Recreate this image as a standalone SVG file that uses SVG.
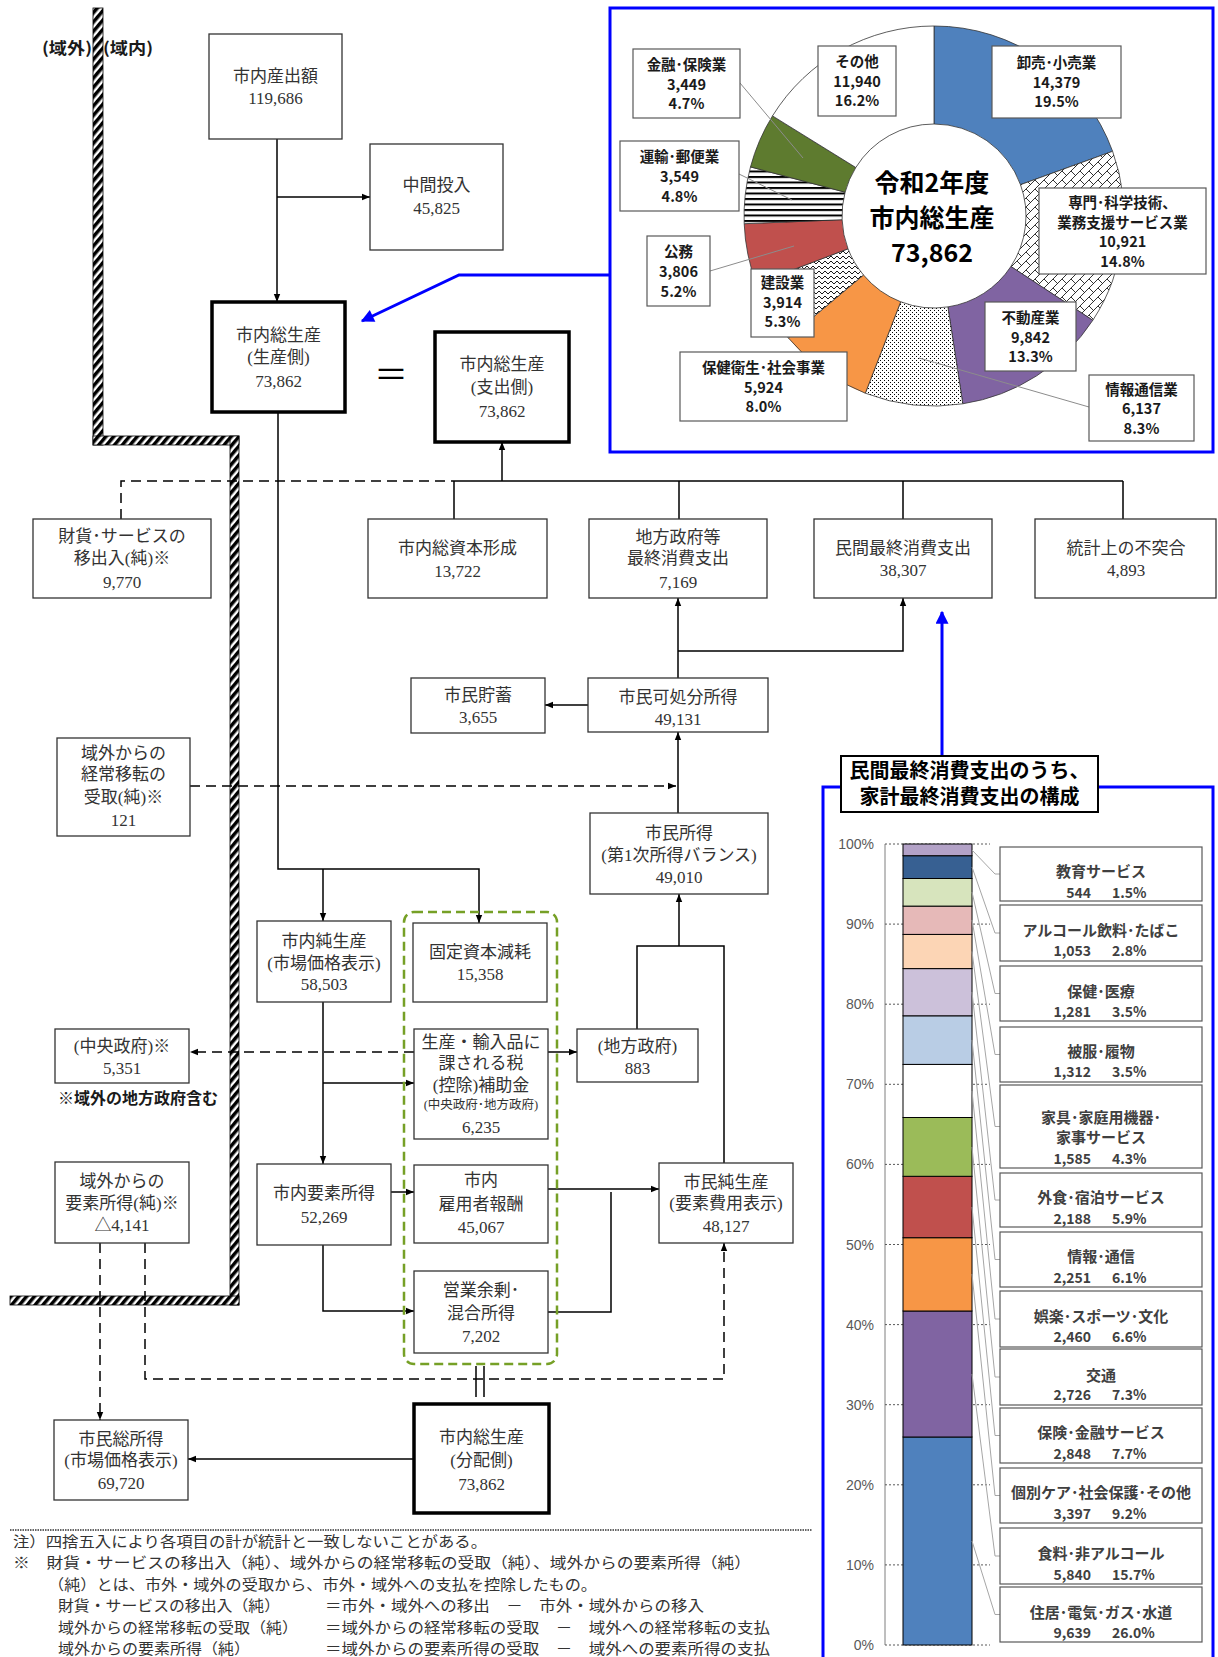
<svg xmlns="http://www.w3.org/2000/svg" width="1218" height="1657" viewBox="0 0 1218 1657">
<style>
.bx{fill:#fff;stroke:#333;stroke-width:1.3}
.bxt{fill:#fff;stroke:#000;stroke-width:3.5}
.t{font-family:"Liberation Serif","Noto Sans CJK JP",serif;font-size:17px;fill:#333;text-anchor:middle}
.ts{font-family:"Liberation Serif","Noto Sans CJK JP",serif;font-size:12.5px;fill:#333;text-anchor:middle}
.ln{stroke:#000;stroke-width:1.5;fill:none}
.dl{stroke:#000;stroke-width:1.5;fill:none;stroke-dasharray:10,6}
.pb{fill:#fff;stroke:#595959;stroke-width:1.2}
.pl{font-family:"Noto Sans CJK JP",sans-serif;font-weight:bold;font-size:14.5px;fill:#1a1a1a;text-anchor:middle}
.pc{font-family:"Noto Sans CJK JP",sans-serif;font-weight:bold;font-size:25px;fill:#000;text-anchor:middle}
.bl{font-family:"Noto Sans CJK JP",sans-serif;font-weight:bold;font-size:15px;fill:#404040;text-anchor:middle}
.bn{font-family:"Noto Sans CJK JP",sans-serif;font-weight:bold;font-size:14px;fill:#404040}
.ax{font-family:"Liberation Sans",sans-serif;font-size:14px;fill:#595959;text-anchor:end}
.nt{font-family:"Noto Sans CJK JP",sans-serif;font-size:15px;fill:#333}
.hb{font-family:"Noto Sans CJK JP",sans-serif;font-weight:bold;font-size:16px;fill:#1a1a1a}
.lead{stroke:#8c8c8c;stroke-width:1;fill:none}
.bld{stroke:#a6a6a6;stroke-width:1;fill:none}
.seg{stroke:#000;stroke-width:1}
.grid{stroke:#595959;stroke-width:1;stroke-dasharray:2,2}
.hatch{fill:url(#hatch);stroke:#000;stroke-width:0.8}
.blue{stroke:#0000ff;stroke-width:3;fill:none}
</style>
<defs>
<pattern id="hatch" width="6" height="6" patternUnits="userSpaceOnUse" patternTransform="rotate(40)"><rect width="6" height="6" fill="#fff"/><rect width="3.5" height="6" fill="#000"/></pattern>
<pattern id="cross" width="9" height="9" patternUnits="userSpaceOnUse"><rect width="9" height="9" fill="#fff"/><path d="M0,9 L9,0 M0,0 L4.5,4.5" stroke="#000" stroke-width="0.8" fill="none"/></pattern>
<pattern id="dots" width="4" height="4" patternUnits="userSpaceOnUse"><rect width="4" height="4" fill="#fff"/><rect width="1" height="1" fill="#000"/><rect x="2" y="2" width="1" height="1" fill="#000"/></pattern>
<pattern id="zig" width="6" height="5" patternUnits="userSpaceOnUse"><rect width="6" height="5" fill="#fff"/><path d="M0,4 L3,1 L6,4" fill="none" stroke="#000" stroke-width="0.9"/></pattern>
<pattern id="hstripe" width="6" height="5.5" patternUnits="userSpaceOnUse"><rect width="6" height="5.5" fill="#fff"/><rect width="6" height="2" fill="#000"/></pattern>
<marker id="ah" viewBox="0 0 10 10" refX="10" refY="5" markerWidth="8" markerHeight="8" markerUnits="userSpaceOnUse" orient="auto"><path d="M0,1 L10,5 L0,9z" fill="#000"/></marker>
<marker id="bah" viewBox="0 0 10 10" refX="9" refY="5" markerWidth="15" markerHeight="13" markerUnits="userSpaceOnUse" orient="auto"><path d="M0,0 L10,5 L0,10z" fill="#0000ff"/></marker>
</defs>
<rect width="1218" height="1657" fill="#fff"/>

<!-- region border hatch -->
<g id="border">
<rect class="hatch" x="93" y="8" width="10" height="437"/>
<rect class="hatch" x="93" y="436" width="146" height="9"/>
<rect class="hatch" x="230" y="436" width="9" height="869"/>
<rect class="hatch" x="10" y="1296" width="229" height="9"/>
<text class="hb" x="42" y="54" textLength="50" lengthAdjust="spacingAndGlyphs">(域外)</text>
<text class="hb" x="103" y="54" textLength="50" lengthAdjust="spacingAndGlyphs">(域内)</text>
</g>

<!-- connectors -->
<g id="connectors">
<line class="ln" x1="277" y1="139" x2="277" y2="302" marker-end="url(#ah)"/>
<line class="ln" x1="277" y1="197" x2="370" y2="197" marker-end="url(#ah)"/>
<line class="ln" x1="502" y1="481" x2="502" y2="442" marker-end="url(#ah)"/>
<path class="ln" d="M454,481 H1123 M454,481 V519 M679,481 V519 M903,481 V519 M1123,481 V519"/>
<path class="dl" d="M121,519 V481 H454"/>
<line class="ln" x1="678" y1="678" x2="678" y2="598" marker-end="url(#ah)"/>
<path class="ln" d="M678,651 H903 V598" marker-end="url(#ah)"/>
<line class="ln" x1="588" y1="705" x2="545" y2="705" marker-end="url(#ah)"/>
<line class="ln" x1="678" y1="813" x2="678" y2="732" marker-end="url(#ah)"/>
<line class="dl" x1="190" y1="786" x2="676" y2="786" marker-end="url(#ah)"/>
<path class="ln" d="M637,1029 V946 H724 V1163"/>
<line class="ln" x1="679" y1="946" x2="679" y2="894" marker-end="url(#ah)"/>
<path class="ln" d="M278,412 V869 H479 V923" marker-end="url(#ah)"/>
<line class="ln" x1="323" y1="869" x2="323" y2="921" marker-end="url(#ah)"/>
<line class="ln" x1="323" y1="1002" x2="323" y2="1164" marker-end="url(#ah)"/>
<line class="ln" x1="323" y1="1083" x2="414" y2="1083" marker-end="url(#ah)"/>
<line class="ln" x1="391" y1="1192" x2="414" y2="1192" marker-end="url(#ah)"/>
<path class="ln" d="M323,1245 V1311 H414" marker-end="url(#ah)"/>
<line class="dl" x1="414" y1="1052" x2="190" y2="1052" marker-end="url(#ah)"/>
<line class="ln" x1="548" y1="1052" x2="577" y2="1052" marker-end="url(#ah)"/>
<line class="ln" x1="548" y1="1189" x2="659" y2="1189" marker-end="url(#ah)"/>
<path class="ln" d="M548,1312 H611 V1192"/>
<line class="dl" x1="100" y1="1243" x2="100" y2="1420" marker-end="url(#ah)"/>
<path class="dl" d="M145,1243 V1379 H724 V1243" marker-end="url(#ah)"/>
<path class="ln" d="M476,1366 V1397 M484,1366 V1397"/>
<line class="ln" x1="414" y1="1459" x2="188" y2="1459" marker-end="url(#ah)"/>
<polyline class="blue" points="610,275 459,275 362,321" marker-end="url(#bah)"/>
<line class="blue" x1="942" y1="755" x2="942" y2="612" marker-end="url(#bah)"/>
</g>

<!-- green dashed group -->
<rect id="distribution-group" x="404" y="912" width="153" height="452" rx="10" fill="none" stroke="#76a026" stroke-width="2.5" stroke-dasharray="9,5"/>

<!-- flow nodes -->
<g id="n-output"><rect class="bx" x="209" y="34" width="133" height="105"/><text class="t" x="275.5" y="82">市内産出額</text><text class="t" x="275.5" y="104">119,686</text></g>
<g id="n-intermediate"><rect class="bx" x="370" y="144" width="133" height="106"/><text class="t" x="436.5" y="191">中間投入</text><text class="t" x="436.5" y="214">45,825</text></g>
<g id="n-gdp-prod"><rect class="bxt" x="212" y="302" width="133" height="110"/><text class="t" x="278.5" y="341">市内総生産</text><text class="t" x="278.5" y="363">(生産側)</text><text class="t" x="278.5" y="387">73,862</text></g>
<text id="eq" x="391" y="387" font-family="Noto Sans CJK JP,sans-serif" font-size="34" text-anchor="middle" fill="#000">＝</text>
<g id="n-gdp-exp"><rect class="bxt" x="435" y="332" width="134" height="110"/><text class="t" x="502" y="370">市内総生産</text><text class="t" x="502" y="393">(支出側)</text><text class="t" x="502" y="417">73,862</text></g>
<g id="n-netexport"><rect class="bx" x="33" y="519" width="178" height="79"/><text class="t" x="122" y="542">財貨･サービスの</text><text class="t" x="122" y="564">移出入(純)※</text><text class="t" x="122" y="588">9,770</text></g>
<g id="n-capital"><rect class="bx" x="368" y="519" width="179" height="79"/><text class="t" x="457.5" y="554">市内総資本形成</text><text class="t" x="457.5" y="577">13,722</text></g>
<g id="n-govcons"><rect class="bx" x="589" y="519" width="178" height="79"/><text class="t" x="678" y="543">地方政府等</text><text class="t" x="678" y="564">最終消費支出</text><text class="t" x="678" y="588">7,169</text></g>
<g id="n-privcons"><rect class="bx" x="814" y="519" width="178" height="79"/><text class="t" x="903" y="554">民間最終消費支出</text><text class="t" x="903" y="576">38,307</text></g>
<g id="n-discrepancy"><rect class="bx" x="1035" y="519" width="181" height="79"/><text class="t" x="1126" y="554">統計上の不突合</text><text class="t" x="1126" y="576">4,893</text></g>
<g id="n-saving"><rect class="bx" x="411" y="678" width="134" height="55"/><text class="t" x="478" y="701">市民貯蓄</text><text class="t" x="478" y="723">3,655</text></g>
<g id="n-disposable"><rect class="bx" x="588" y="678" width="180" height="54"/><text class="t" x="678" y="703">市民可処分所得</text><text class="t" x="678" y="725">49,131</text></g>
<g id="n-transfer"><rect class="bx" x="57" y="738" width="133" height="98"/><text class="t" x="123.5" y="759">域外からの</text><text class="t" x="123.5" y="780">経常移転の</text><text class="t" x="123.5" y="803">受取(純)※</text><text class="t" x="123.5" y="826">121</text></g>
<g id="n-income"><rect class="bx" x="590" y="813" width="178" height="81"/><text class="t" x="679" y="839">市民所得</text><text class="t" x="679" y="861">(第1次所得バランス)</text><text class="t" x="679" y="883">49,010</text></g>
<g id="n-ndp"><rect class="bx" x="257" y="921" width="134" height="81"/><text class="t" x="324" y="947">市内純生産</text><text class="t" x="324" y="969">(市場価格表示)</text><text class="t" x="324" y="990">58,503</text></g>
<g id="n-depreciation"><rect class="bx" x="413" y="923" width="134" height="79"/><text class="t" x="480" y="958">固定資本減耗</text><text class="t" x="480" y="980">15,358</text></g>
<g id="n-central"><rect class="bx" x="55" y="1029" width="134" height="54"/><text class="t" x="122" y="1052">(中央政府)※</text><text class="t" x="122" y="1074">5,351</text></g>
<text class="hb" x="58" y="1104">※域外の地方政府含む</text>
<g id="n-tax"><rect class="bx" x="414" y="1029" width="134" height="110"/><text class="t" x="481" y="1048">生産・輸入品に</text><text class="t" x="481" y="1069">課される税</text><text class="t" x="481" y="1091">(控除)補助金</text><text class="ts" x="481" y="1109">(中央政府･地方政府)</text><text class="t" x="481" y="1133">6,235</text></g>
<g id="n-local"><rect class="bx" x="577" y="1029" width="121" height="53"/><text class="t" x="637.5" y="1052">(地方政府)</text><text class="t" x="637.5" y="1074">883</text></g>
<g id="n-factor-abroad"><rect class="bx" x="55" y="1162" width="134" height="81"/><text class="t" x="122" y="1187">域外からの</text><text class="t" x="122" y="1209">要素所得(純)※</text><text class="t" x="122" y="1231">△4,141</text></g>
<g id="n-factor"><rect class="bx" x="257" y="1164" width="134" height="81"/><text class="t" x="324" y="1199">市内要素所得</text><text class="t" x="324" y="1223">52,269</text></g>
<g id="n-compensation"><rect class="bx" x="414" y="1165" width="134" height="78"/><text class="t" x="481" y="1186">市内</text><text class="t" x="481" y="1210">雇用者報酬</text><text class="t" x="481" y="1233">45,067</text></g>
<g id="n-nni"><rect class="bx" x="659" y="1163" width="134" height="80"/><text class="t" x="726" y="1188">市民純生産</text><text class="t" x="726" y="1209">(要素費用表示)</text><text class="t" x="726" y="1232">48,127</text></g>
<g id="n-surplus"><rect class="bx" x="414" y="1271" width="134" height="82"/><text class="t" x="481" y="1296">営業余剰･</text><text class="t" x="481" y="1319">混合所得</text><text class="t" x="481" y="1342">7,202</text></g>
<g id="n-gdp-dist"><rect class="bxt" x="414" y="1404" width="135" height="109"/><text class="t" x="481.5" y="1443">市内総生産</text><text class="t" x="481.5" y="1466">(分配側)</text><text class="t" x="481.5" y="1490">73,862</text></g>
<g id="n-gni"><rect class="bx" x="54" y="1420" width="134" height="80"/><text class="t" x="121" y="1445">市民総所得</text><text class="t" x="121" y="1466">(市場価格表示)</text><text class="t" x="121" y="1489">69,720</text></g>

<!-- notes -->
<g id="notes">
<line x1="10" y1="1530" x2="812" y2="1530" stroke="#333" stroke-width="1.5" stroke-dasharray="1.5,1"/>
<text class="nt" x="13" y="1547" textLength="474" lengthAdjust="spacingAndGlyphs">注）四捨五入により各項目の計が統計と一致しないことがある。</text>
<text class="nt" x="13" y="1568" textLength="738" lengthAdjust="spacingAndGlyphs">※　財貨・サービスの移出入（純）、域外からの経常移転の受取（純）、域外からの要素所得（純）</text>
<text class="nt" x="48" y="1589.5" textLength="549" lengthAdjust="spacingAndGlyphs">（純）とは、市外・域外の受取から、市外・域外への支払を控除したもの。</text>
<text class="nt" x="58" y="1611" textLength="222" lengthAdjust="spacingAndGlyphs">財貨・サービスの移出入（純）</text>
<text class="nt" x="325" y="1611" textLength="379" lengthAdjust="spacingAndGlyphs">＝市外・域外への移出　－　市外・域外からの移入</text>
<text class="nt" x="58" y="1632.5" textLength="240" lengthAdjust="spacingAndGlyphs">域外からの経常移転の受取（純）</text>
<text class="nt" x="325" y="1632.5" textLength="445" lengthAdjust="spacingAndGlyphs">＝域外からの経常移転の受取　－　域外への経常移転の支払</text>
<text class="nt" x="58" y="1654" textLength="192" lengthAdjust="spacingAndGlyphs">域外からの要素所得（純）</text>
<text class="nt" x="325" y="1654" textLength="445" lengthAdjust="spacingAndGlyphs">＝域外からの要素所得の受取　－　域外への要素所得の支払</text>
</g>

<!-- pie chart panel -->
<g id="pie-panel">
<rect x="610" y="8" width="603" height="444" fill="none" stroke="#0000ff" stroke-width="3"/>
<g id="pie" stroke="#333" stroke-width="0.8">
<path fill="#4f81bd" d="M934,26 A190,190 0 0 1 1112.6,151.3 L1020.5,184.7 A92,92 0 0 0 934,124 Z"/>
<path fill="url(#cross)" d="M1112.6,151.3 A190,190 0 0 1 1092.8,320.3 L1010.9,266.5 A92,92 0 0 0 1020.5,184.7 Z"/>
<path fill="#8064a2" d="M1092.8,320.3 A190,190 0 0 1 962.8,403.8 L947.9,306.9 A92,92 0 0 0 1010.9,266.5 Z"/>
<path fill="url(#dots)" d="M962.8,403.8 A190,190 0 0 1 865.3,393.2 L900.7,301.8 A92,92 0 0 0 947.9,306.9 Z"/>
<path fill="#f79646" d="M865.3,393.2 A190,190 0 0 1 788.3,337.9 L863.5,275.0 A92,92 0 0 0 900.7,301.8 Z"/>
<path fill="url(#zig)" d="M788.3,337.9 A190,190 0 0 1 756.4,283.7 L848.0,248.8 A92,92 0 0 0 863.5,275.0 Z"/>
<path fill="#c0504d" d="M756.4,283.7 A190,190 0 0 1 744.2,223.7 L842.1,219.7 A92,92 0 0 0 848.0,248.8 Z"/>
<path fill="url(#hstripe)" d="M744.2,223.7 A190,190 0 0 1 750.5,166.9 L845.1,192.2 A92,92 0 0 0 842.1,219.7 Z"/>
<path fill="#5e7b2f" d="M750.5,166.9 A190,190 0 0 1 772.5,115.9 L855.8,167.5 A92,92 0 0 0 845.1,192.2 Z"/>
<path fill="#fff" d="M772.5,115.9 A190,190 0 0 1 934,26 L934,124 A92,92 0 0 0 855.8,167.5 Z"/>
</g>
<text class="pc" x="932" y="192">令和2年度</text>
<text class="pc" x="932" y="227">市内総生産</text>
<text class="pc" x="932" y="262">73,862</text>
<path class="lead" d="M740,83 L803,158 M739,174 L792,200 M710,271 L794,246 M1089,407 L919,358"/>
<g id="pl-wholesale"><rect class="pb" x="992" y="46" width="129" height="72"/><text class="pl" x="1056.5" y="68">卸売･小売業</text><text class="pl" x="1056.5" y="88">14,379</text><text class="pl" x="1056.5" y="107">19.5%</text></g>
<g id="pl-professional"><rect class="pb" x="1039" y="188" width="167" height="86"/><text class="pl" x="1122.5" y="208">専門･科学技術、</text><text class="pl" x="1122.5" y="228">業務支援サービス業</text><text class="pl" x="1122.5" y="247">10,921</text><text class="pl" x="1122.5" y="267">14.8%</text></g>
<g id="pl-realestate"><rect class="pb" x="985" y="302" width="91" height="69"/><text class="pl" x="1030.5" y="323">不動産業</text><text class="pl" x="1030.5" y="343">9,842</text><text class="pl" x="1030.5" y="362">13.3%</text></g>
<g id="pl-ict"><rect class="pb" x="1089" y="375" width="105" height="66"/><text class="pl" x="1141.5" y="395">情報通信業</text><text class="pl" x="1141.5" y="414">6,137</text><text class="pl" x="1141.5" y="434">8.3%</text></g>
<g id="pl-health"><rect class="pb" x="680" y="352" width="167" height="69"/><text class="pl" x="763.5" y="373">保健衛生･社会事業</text><text class="pl" x="763.5" y="393">5,924</text><text class="pl" x="763.5" y="412">8.0%</text></g>
<g id="pl-construction"><rect class="pb" x="751" y="269" width="63" height="68"/><text class="pl" x="782.5" y="288">建設業</text><text class="pl" x="782.5" y="308">3,914</text><text class="pl" x="782.5" y="327">5.3%</text></g>
<g id="pl-public"><rect class="pb" x="647" y="236" width="63" height="70"/><text class="pl" x="678.5" y="257">公務</text><text class="pl" x="678.5" y="277">3,806</text><text class="pl" x="678.5" y="297">5.2%</text></g>
<g id="pl-transport"><rect class="pb" x="620" y="141" width="119" height="70"/><text class="pl" x="679.5" y="162">運輸･郵便業</text><text class="pl" x="679.5" y="182">3,549</text><text class="pl" x="679.5" y="202">4.8%</text></g>
<g id="pl-finance"><rect class="pb" x="633" y="49" width="107" height="69"/><text class="pl" x="686.5" y="70">金融･保険業</text><text class="pl" x="686.5" y="90">3,449</text><text class="pl" x="686.5" y="109">4.7%</text></g>
<g id="pl-other"><rect class="pb" x="818" y="46" width="78" height="70"/><text class="pl" x="857" y="67">その他</text><text class="pl" x="857" y="87">11,940</text><text class="pl" x="857" y="106">16.2%</text></g>
</g>

<!-- bar chart panel -->
<g id="bar-panel">
<path d="M823,1665 V787 H1213 V1665" fill="none" stroke="#0000ff" stroke-width="3"/>
<g id="bar-title"><rect x="841" y="756" width="257" height="56" fill="#fff" stroke="#000" stroke-width="2"/>
<text x="969.5" y="778" font-family="Noto Sans CJK JP,sans-serif" font-weight="bold" font-size="20" text-anchor="middle" fill="#000">民間最終消費支出のうち、</text>
<text x="969.5" y="804" font-family="Noto Sans CJK JP,sans-serif" font-weight="bold" font-size="20" text-anchor="middle" fill="#000">家計最終消費支出の構成</text></g>
<g id="axis">
<line x1="885" y1="844" x2="885" y2="1645" stroke="#7f7f7f" stroke-width="1"/>
<path class="grid" d="M885,844 H990 M885,924.1 H990 M885,1004.2 H990 M885,1084.3 H990 M885,1164.4 H990 M885,1244.5 H990 M885,1324.6 H990 M885,1404.7 H990 M885,1484.8 H990 M885,1564.9 H990 M885,1645 H990"/>
<text class="ax" x="874" y="849">100%</text><text class="ax" x="874" y="929">90%</text><text class="ax" x="874" y="1009">80%</text><text class="ax" x="874" y="1089">70%</text><text class="ax" x="874" y="1169">60%</text><text class="ax" x="874" y="1250">50%</text><text class="ax" x="874" y="1330">40%</text><text class="ax" x="874" y="1410">30%</text><text class="ax" x="874" y="1490">20%</text><text class="ax" x="874" y="1570">10%</text><text class="ax" x="874" y="1650">0%</text>
</g>
<g id="bar">
<rect class="seg" x="903" y="1437" width="69" height="208" fill="#4f81bd"/>
<rect class="seg" x="903" y="1311" width="69" height="126" fill="#8064a2"/>
<rect class="seg" x="903" y="1237.7" width="69" height="73.3" fill="#f79646"/>
<rect class="seg" x="903" y="1176.3" width="69" height="61.4" fill="#c0504d"/>
<rect class="seg" x="903" y="1117.5" width="69" height="58.8" fill="#9bbb59"/>
<rect class="seg" x="903" y="1064.4" width="69" height="53.1" fill="#fff"/>
<rect class="seg" x="903" y="1015.8" width="69" height="48.6" fill="#b9cde5"/>
<rect class="seg" x="903" y="968.6" width="69" height="47.2" fill="#ccc1da"/>
<rect class="seg" x="903" y="934.4" width="69" height="34.2" fill="#fcd5b5"/>
<rect class="seg" x="903" y="906.1" width="69" height="28.3" fill="#e6b9b8"/>
<rect class="seg" x="903" y="878.5" width="69" height="27.6" fill="#d7e4bd"/>
<rect class="seg" x="903" y="855.7" width="69" height="22.8" fill="#376092"/>
<rect class="seg" x="903" y="844" width="69" height="11.7" fill="#b3a2c7"/>
</g>
<g id="bar-leaders">
<polyline class="bld" points="972,850 995,874 1000,874"/>
<polyline class="bld" points="972,867 995,933 1000,933"/>
<polyline class="bld" points="972,892 995,993.5 1000,993.5"/>
<polyline class="bld" points="972,920 995,1054.5 1000,1054.5"/>
<polyline class="bld" points="972,951.5 995,1126.5 1000,1126.5"/>
<polyline class="bld" points="972,992 995,1200 1000,1200"/>
<polyline class="bld" points="972,1040 995,1259.5 1000,1259.5"/>
<polyline class="bld" points="972,1091 995,1319 1000,1319"/>
<polyline class="bld" points="972,1147 995,1377 1000,1377"/>
<polyline class="bld" points="972,1207 995,1435.5 1000,1435.5"/>
<polyline class="bld" points="972,1274 995,1495.5 1000,1495.5"/>
<polyline class="bld" points="972,1374 995,1556 1000,1556"/>
<polyline class="bld" points="972,1541 995,1614.5 1000,1614.5"/>
</g>
<g id="bl-education"><rect class="pb" x="1000" y="847" width="202" height="54"/><text class="bl" x="1101" y="877">教育サービス</text><text class="bn" x="1091" y="898" text-anchor="end">544</text><text class="bn" x="1112" y="898">1.5%</text></g>
<g id="bl-alcohol"><rect class="pb" x="1000" y="905" width="202" height="56"/><text class="bl" x="1101" y="936">アルコール飲料･たばこ</text><text class="bn" x="1091" y="956" text-anchor="end">1,053</text><text class="bn" x="1112" y="956">2.8%</text></g>
<g id="bl-health"><rect class="pb" x="1000" y="966" width="202" height="55"/><text class="bl" x="1101" y="997">保健･医療</text><text class="bn" x="1091" y="1017" text-anchor="end">1,281</text><text class="bn" x="1112" y="1017">3.5%</text></g>
<g id="bl-clothing"><rect class="pb" x="1000" y="1027" width="202" height="55"/><text class="bl" x="1101" y="1057">被服･履物</text><text class="bn" x="1091" y="1077" text-anchor="end">1,312</text><text class="bn" x="1112" y="1077">3.5%</text></g>
<g id="bl-furniture"><rect class="pb" x="1000" y="1085" width="202" height="83"/><text class="bl" x="1101" y="1123">家具･家庭用機器･</text><text class="bl" x="1101" y="1143">家事サービス</text><text class="bn" x="1091" y="1164" text-anchor="end">1,585</text><text class="bn" x="1112" y="1164">4.3%</text></g>
<g id="bl-restaurant"><rect class="pb" x="1000" y="1173" width="202" height="54"/><text class="bl" x="1101" y="1203">外食･宿泊サービス</text><text class="bn" x="1091" y="1224" text-anchor="end">2,188</text><text class="bn" x="1112" y="1224">5.9%</text></g>
<g id="bl-comm"><rect class="pb" x="1000" y="1232" width="202" height="55"/><text class="bl" x="1101" y="1262">情報･通信</text><text class="bn" x="1091" y="1283" text-anchor="end">2,251</text><text class="bn" x="1112" y="1283">6.1%</text></g>
<g id="bl-recreation"><rect class="pb" x="1000" y="1291" width="202" height="56"/><text class="bl" x="1101" y="1322">娯楽･スポーツ･文化</text><text class="bn" x="1091" y="1342" text-anchor="end">2,460</text><text class="bn" x="1112" y="1342">6.6%</text></g>
<g id="bl-transport"><rect class="pb" x="1000" y="1349" width="202" height="56"/><text class="bl" x="1101" y="1381">交通</text><text class="bn" x="1091" y="1400" text-anchor="end">2,726</text><text class="bn" x="1112" y="1400">7.3%</text></g>
<g id="bl-insurance"><rect class="pb" x="1000" y="1408" width="202" height="55"/><text class="bl" x="1101" y="1438">保険･金融サービス</text><text class="bn" x="1091" y="1459" text-anchor="end">2,848</text><text class="bn" x="1112" y="1459">7.7%</text></g>
<g id="bl-personal"><rect class="pb" x="1000" y="1468" width="202" height="55"/><text class="bl" x="1101" y="1498">個別ケア･社会保護･その他</text><text class="bn" x="1091" y="1519" text-anchor="end">3,397</text><text class="bn" x="1112" y="1519">9.2%</text></g>
<g id="bl-food"><rect class="pb" x="1000" y="1528" width="202" height="56"/><text class="bl" x="1101" y="1559">食料･非アルコール</text><text class="bn" x="1091" y="1580" text-anchor="end">5,840</text><text class="bn" x="1112" y="1580">15.7%</text></g>
<g id="bl-housing"><rect class="pb" x="1000" y="1587" width="202" height="55"/><text class="bl" x="1101" y="1618">住居･電気･ガス･水道</text><text class="bn" x="1091" y="1638" text-anchor="end">9,639</text><text class="bn" x="1112" y="1638">26.0%</text></g>
</g>
</svg>
